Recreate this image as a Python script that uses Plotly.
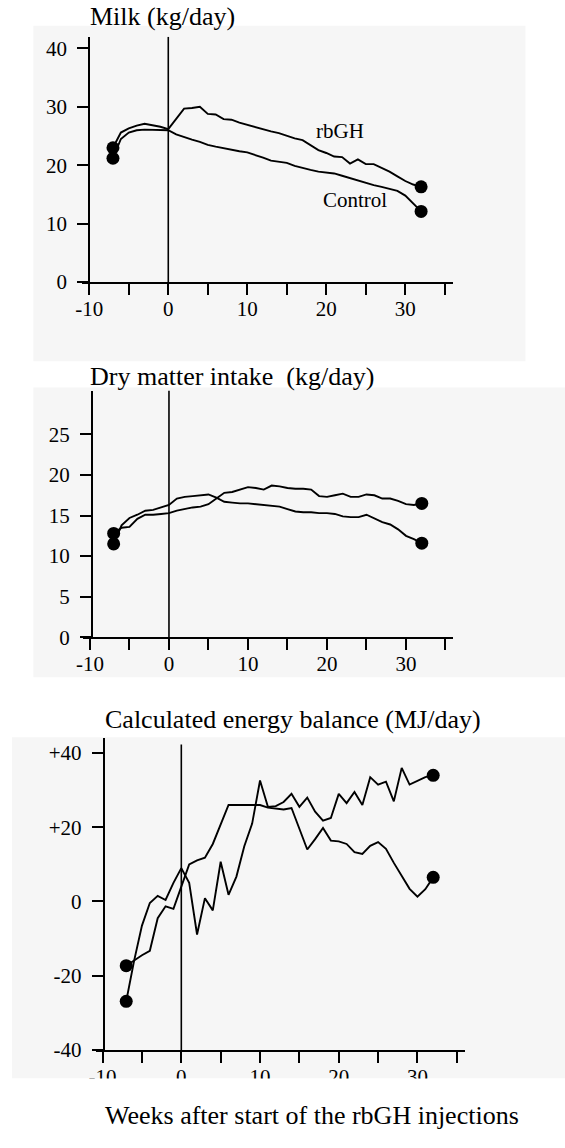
import plotly.graph_objects as go

# ---- data -------------------------------------------------------------
weeks = list(range(-7, 33))

milk_rbgh = [23.0, 25.6, 26.3, 26.8, 27.1, 26.9, 26.6, 26.2,
             28.0, 29.7, 29.8, 30.0, 28.8, 28.7, 27.9, 27.8, 27.3, 26.9,
             26.6, 26.1, 25.8, 25.5, 25.0, 24.6, 24.3, 23.4, 22.6, 22.1,
             21.5, 21.4, 20.3, 21.0, 20.2, 20.2, 19.6, 18.9, 18.1, 17.3,
             16.7, 16.3]
milk_control = [21.2, 24.5, 25.6, 26.0, 26.1, 26.1, 26.1, 26.0,
                25.3, 24.8, 24.4, 24.0, 23.5, 23.2, 22.9, 22.6, 22.4, 22.2,
                21.8, 21.3, 20.8, 20.6, 20.4, 19.9, 19.5, 19.2, 18.9, 18.8,
                18.6, 18.2, 17.8, 17.3, 16.9, 16.6, 16.3, 16.0, 15.6, 14.8,
                13.4, 12.1]

dmi_rbgh = [12.8, 13.5, 13.6, 14.6, 15.1, 15.1, 15.2, 15.3,
            15.6, 15.8, 16.0, 16.1, 16.4, 17.1, 17.8, 17.9, 18.2, 18.5,
            18.4, 18.2, 18.7, 18.6, 18.4, 18.3, 18.3, 18.2, 17.4, 17.3,
            17.5, 17.7, 17.3, 17.3, 17.6, 17.5, 17.1, 17.1, 16.8, 16.4,
            16.3, 16.5]
dmi_control = [11.5, 13.8, 14.7, 15.1, 15.6, 15.7, 16.0, 16.3,
               17.1, 17.3, 17.4, 17.5, 17.6, 17.2, 16.7, 16.6, 16.5, 16.5,
               16.4, 16.3, 16.2, 16.1, 15.8, 15.5, 15.4, 15.4, 15.3, 15.3,
               15.2, 14.9, 14.8, 14.8, 15.1, 14.6, 14.2, 13.9, 13.3, 12.5,
               12.1, 11.6]

eb_control = [-26.9, -16.0, -6.5, -0.4, 1.5, 0.4, 5.0, 9.0,
              5.0, -8.9, 0.9, -2.4, 10.7, 1.8, 6.7, 14.9, 21.0, 32.6,
              25.5, 25.7, 26.8, 29.0, 25.5, 28.0, 24.2, 21.8, 22.5, 29.0,
              26.5, 29.5, 26.0, 33.5, 31.5, 32.3, 27.0, 36.0, 31.5, 32.5,
              33.5, 34.0]
eb_rbgh = [-17.3, -15.8, -14.5, -13.3, -4.5, -1.3, -2.0, 4.0,
           10.0, 11.1, 11.8, 15.5, 20.5, 26.0, 26.0, 26.0, 26.0, 26.0,
           25.3, 25.0, 24.8, 25.2, 19.5, 14.0, 16.8, 19.8, 16.4, 16.2,
           15.5, 13.3, 12.8, 15.0, 16.0, 14.2, 10.4, 6.8, 3.4, 1.3,
           3.3, 6.5]

x_tick_vals = [-10, -5, 0, 5, 10, 15, 20, 25, 30, 35]
x_tick_text = ["-10", "", "0", "", "10", "", "20", "", "30", ""]
milk_tick_vals = [0, 10, 20, 30, 40]
dmi_tick_vals = [0, 5, 10, 15, 20, 25]
eb_tick_vals = [-40, -20, 0, 20, 40]
eb_tick_text = ["-40", "-20", "0", "+20", "+40"]

# ---- page geometry (pixels) ------------------------------------------
W, H = 565, 1148
SERIF = "Liberation Serif, Times New Roman, serif"


def px(v):
    return v / W


def py(v):
    return 1 - v / H


fig = go.Figure()

panels = [
    dict(n="", x=milk_rbgh, c=milk_control),
    dict(n="2", x=dmi_rbgh, c=dmi_control),
    dict(n="3", x=eb_rbgh, c=eb_control),
]

for p in panels:
    xa, ya = "x" + p["n"], "y" + p["n"]
    for series in (p["x"], p["c"]):
        fig.add_trace(go.Scatter(
            x=weeks, y=series, mode="lines",
            line=dict(color="black", width=1.9),
            xaxis=xa, yaxis=ya, showlegend=False, hoverinfo="skip"))
        fig.add_trace(go.Scatter(
            x=[weeks[0], weeks[-1]], y=[series[0], series[-1]],
            mode="markers", marker=dict(color="black", size=13),
            xaxis=xa, yaxis=ya, showlegend=False, hoverinfo="skip"))

tickfont = dict(family=SERIF, size=21, color="black")


def xaxis(x0_px, unit_px, xmin, xmax):
    return dict(
        range=[xmin, xmax],
        domain=[px(x0_px + unit_px * xmin), px(x0_px + unit_px * xmax)],
        showline=True, linecolor="black", linewidth=2,
        ticks="outside", ticklen=11, tickwidth=2, tickcolor="black",
        tickvals=x_tick_vals, ticktext=x_tick_text, tickfont=tickfont,
        ticklabelstandoff=-4,
        showgrid=False, zeroline=False, fixedrange=True)


def yaxis(y0_px, vmin, unit_px, vmax, xpos_px, vals, text=None):
    d = dict(
        range=[vmin, vmax],
        domain=[py(y0_px), py(y0_px - unit_px * (vmax - vmin))],
        anchor="free", position=px(xpos_px),
        showline=True, linecolor="black", linewidth=2,
        ticks="outside", ticklen=11, tickwidth=2, tickcolor="black",
        tickvals=vals, tickfont=tickfont, ticklabelstandoff=6,
        showgrid=False, zeroline=False, fixedrange=True)
    if text is not None:
        d["ticktext"] = text
    return d


layout = dict(
    width=W, height=H,
    margin=dict(l=0, r=0, t=0, b=0),
    paper_bgcolor="white", plot_bgcolor="rgba(0,0,0,0)",
    xaxis=dict(xaxis(163.3, 8.0, -10.9, 36.0), anchor="y"),
    yaxis=yaxis(285.0, 0, 5.9, 42.0, 83.3, milk_tick_vals),
    xaxis2=dict(xaxis(164.0, 8.0, -10.9, 36.0), anchor="y2"),
    yaxis2=yaxis(644.0, 0, 8.2, 30.4, 86.0, dmi_tick_vals),
    xaxis3=dict(xaxis(176.5, 7.97, -10.9, 36.1), anchor="y3"),
    yaxis3=yaxis(1061.0, -40, 3.75, 44.0, 98.0, eb_tick_vals, eb_tick_text),
)
fig.update_layout(**layout)

# panel backgrounds
bg = "#f6f6f6"
for x0, x1, y0, y1 in [(26.7, 525, 26, 365), (26.7, 565, 391.7, 684.3),
                       (5, 565, 745, 1090)]:
    fig.add_shape(type="rect", xref="paper", yref="paper",
                  x0=px(x0), x1=px(x1), y0=py(y1), y1=py(y0),
                  fillcolor=bg, line=dict(width=0), layer="below")

# vertical marker at the start of injections (week 0)
for xr, yr, y0, y1 in [("x", "y", 0, 42.0), ("x2", "y2", 0, 30.4),
                       ("x3", "y3", -40, 42.3)]:
    fig.add_shape(type="line", xref=xr, yref=yr, x0=0, x1=0, y0=y0, y1=y1,
                  line=dict(color="black", width=1.6))

# white strip below the last panel
fig.add_shape(type="rect", xref="paper", yref="paper",
              x0=0, x1=1, y0=0, y1=py(1090),
              fillcolor="white", line=dict(width=0), layer="above")

titlefont = dict(family=SERIF, size=26, color="black")
labelfont = dict(family=SERIF, size=21, color="black")
annotations = [
    dict(text="Milk (kg/day)", x=px(82), y=py(17), font=titlefont),
    dict(text="Dry matter intake  (kg/day)", x=px(82), y=py(380), font=titlefont),
    dict(text="Calculated energy balance (MJ/day)", x=px(97), y=py(727), font=titlefont),
    dict(text="Weeks after start of the rbGH injections", x=px(97), y=py(1127),
         font=titlefont),
    dict(text="rbGH", x=px(311), y=py(132), font=labelfont),
    dict(text="Control", x=px(318), y=py(202), font=labelfont),
]
for a in annotations:
    fig.add_annotation(xref="paper", yref="paper", xanchor="left",
                       yanchor="middle", showarrow=False, **a)

fig.write_html("out.html")
